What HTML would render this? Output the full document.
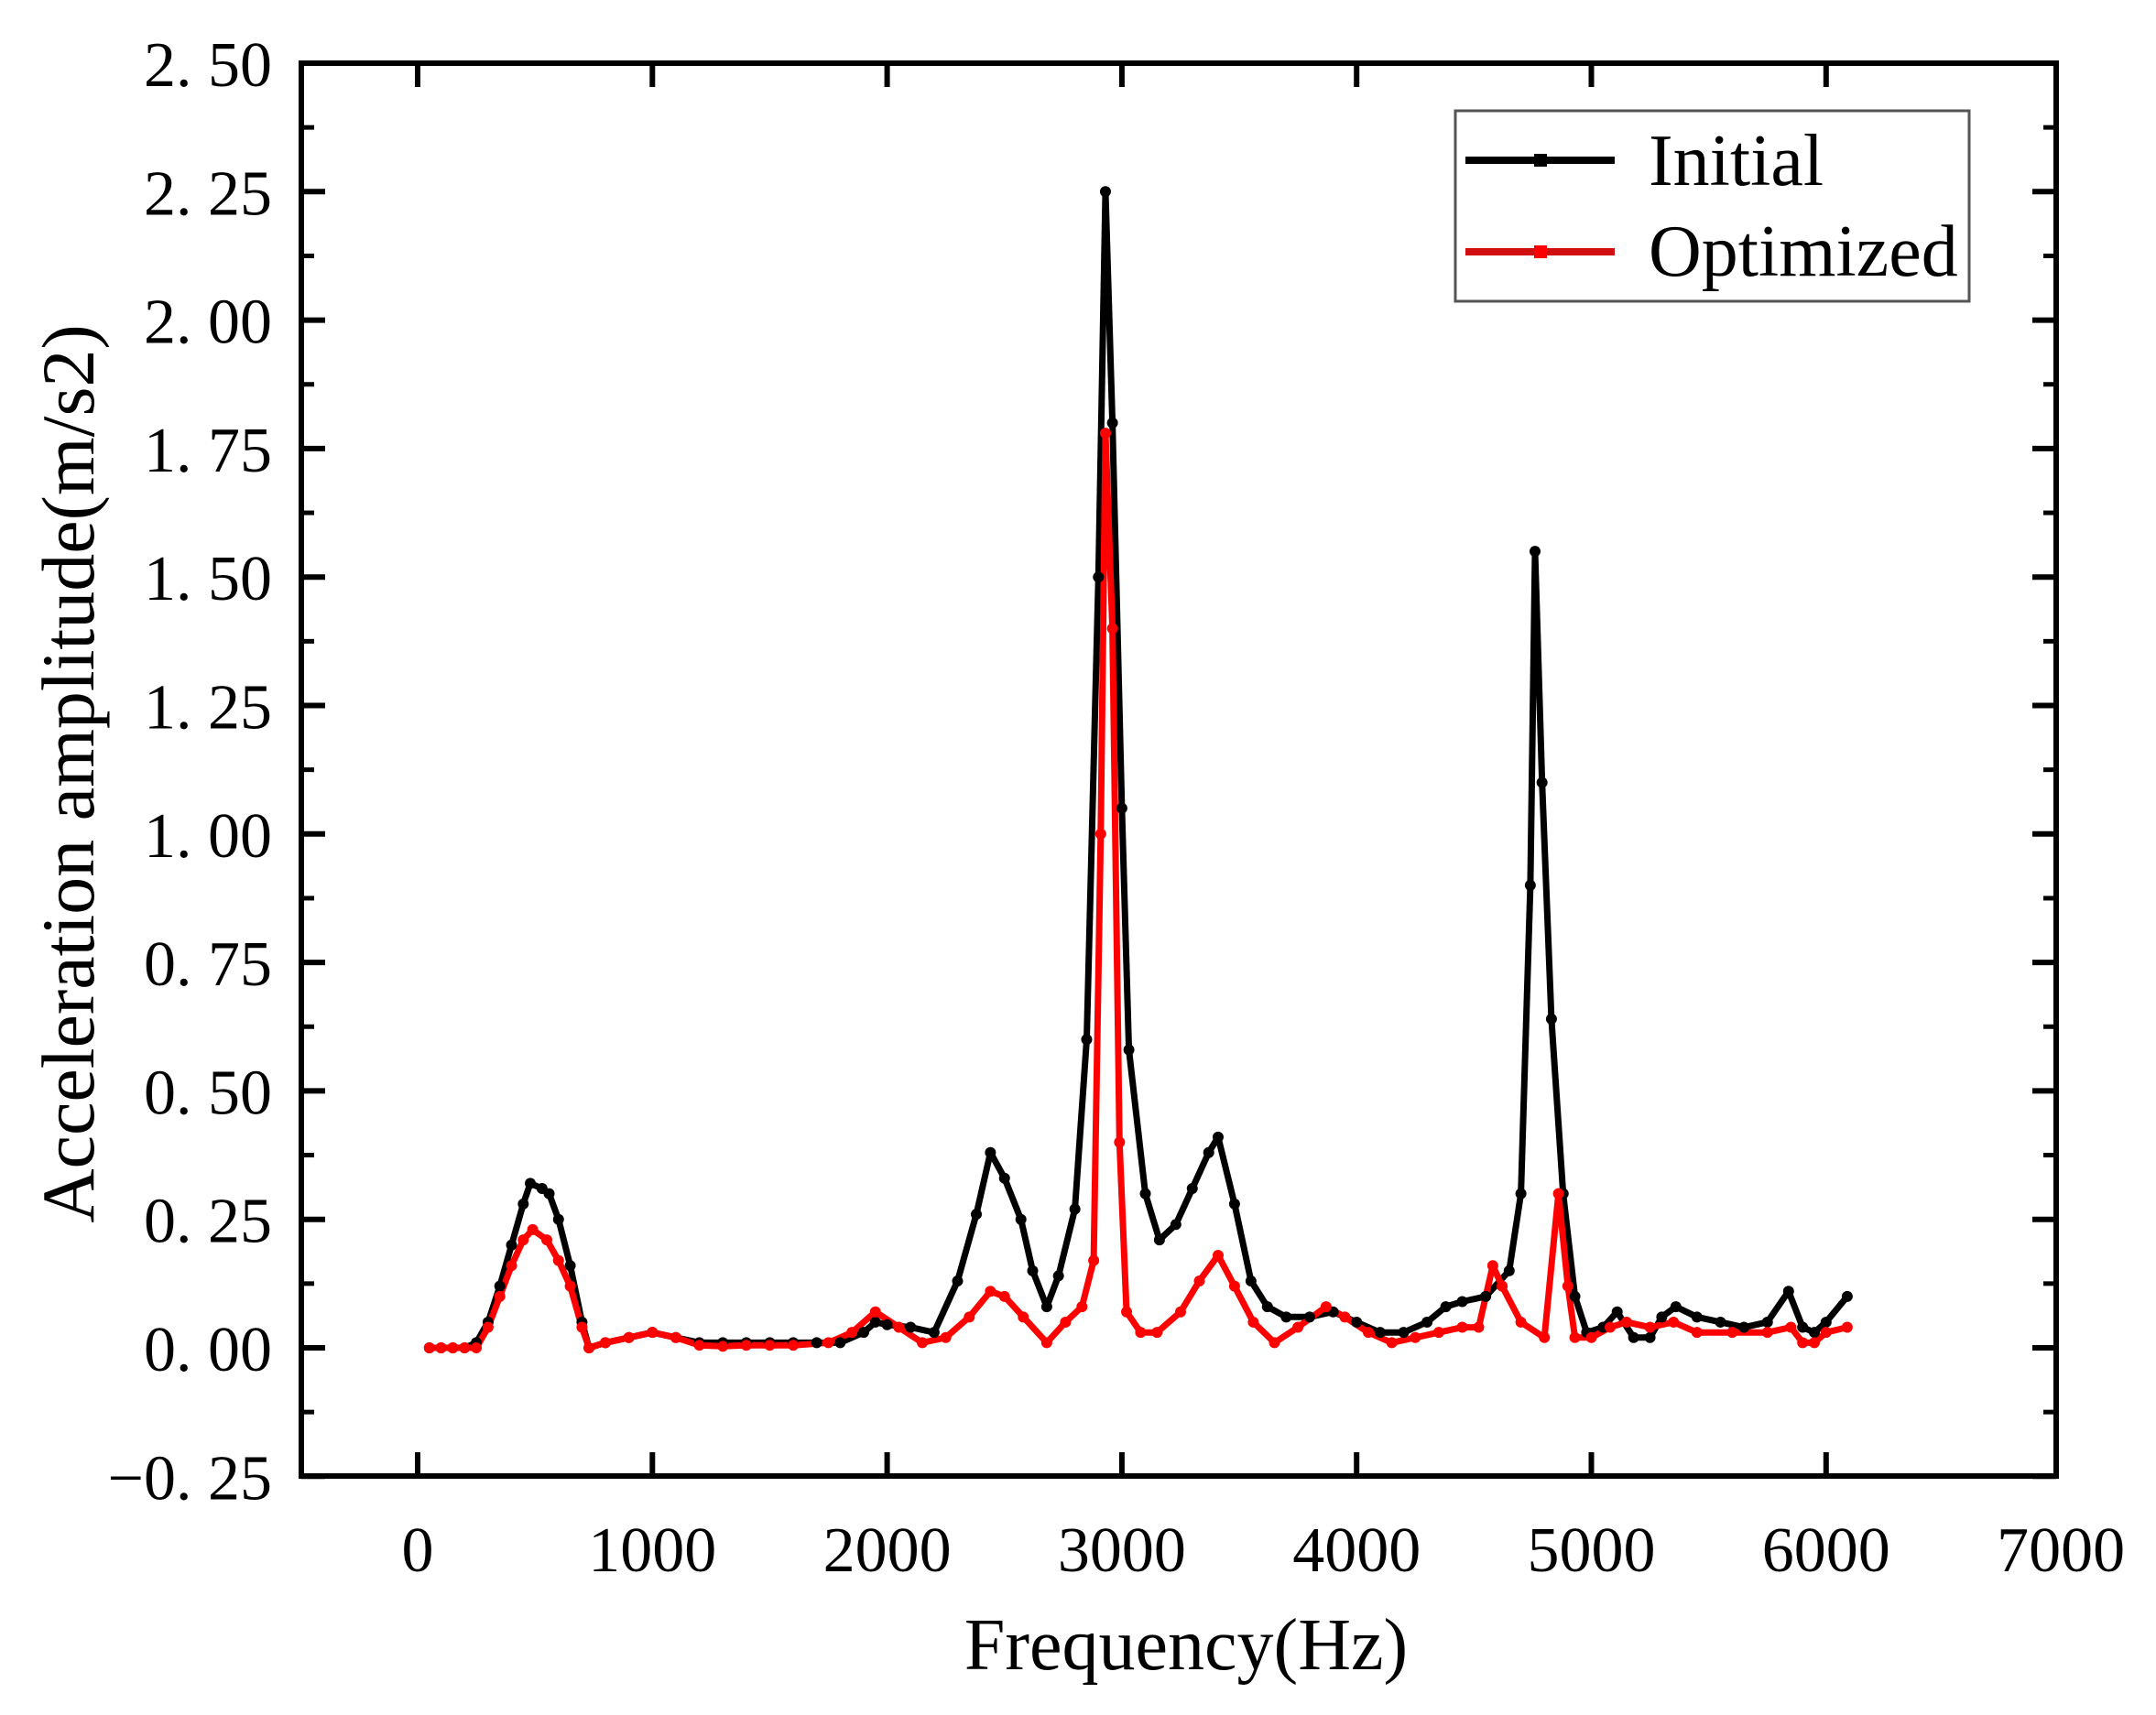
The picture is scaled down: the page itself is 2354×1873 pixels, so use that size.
<!DOCTYPE html>
<html><head><meta charset="utf-8"><style>
html,body{margin:0;padding:0;background:#fff;}
svg{display:block;}
text{font-family:"Liberation Serif","Noto Serif CJK SC",serif;fill:#000;}
</style></head><body>
<svg id="s" width="2354" height="1873" xmlns="http://www.w3.org/2000/svg">
<rect width="2354" height="1873" fill="#fff"/>
<g id="ax"></g>
<path id="pb" fill="none" stroke="#000" stroke-width="7" stroke-linejoin="round"/>
<path id="pr" fill="none" stroke="#f00" stroke-width="7" stroke-linejoin="round"/>
<g id="mk"></g>
<rect x="329" y="69" width="1916" height="1543" fill="none" stroke="#000" stroke-width="6"/>
<rect x="1589" y="121" width="561" height="208" fill="#fff" stroke="#555" stroke-width="3"/>
<line x1="1600" y1="175" x2="1763" y2="175" stroke="#000" stroke-width="8"/>
<rect x="1675" y="168" width="14" height="14" fill="#000"/>
<line x1="1600" y1="275" x2="1763" y2="275" stroke="#d01010" stroke-width="8"/>
<rect x="1675" y="268" width="14" height="14" fill="#f00"/>
<text x="1800" y="202" font-size="80">Initial</text>
<text x="1800" y="301" font-size="80">Optimized</text>
<text x="1295" y="1823" font-size="80" text-anchor="middle">Frequency(Hz)</text>
<text transform="translate(102,845) rotate(-90)" font-size="82" text-anchor="middle">Acceleration amplitude(m/s2)</text>
</svg>
<script>
var X=function(f){return 456+f*0.2563;};
var Y=function(v){return 1472-v*561.2;};
var ax=document.getElementById('ax'),h='';
for(var i=0;i<=11;i++){var v=2.5-i*0.25,y=Y(v);
 var lab=(v<0?'\u22120. 25':v.toFixed(2).replace('.', '. '));
 h+='<text x="297" y="'+(y+25)+'" font-size="70" text-anchor="end">'+lab+'</text>';
 h+='<line x1="329" y1="'+y+'" x2="355" y2="'+y+'" stroke="#000" stroke-width="6"/>';
 h+='<line x1="2219" y1="'+y+'" x2="2245" y2="'+y+'" stroke="#000" stroke-width="6"/>';
 if(i<11){var ym=y+70.15;
 h+='<line x1="329" y1="'+ym+'" x2="343" y2="'+ym+'" stroke="#000" stroke-width="5"/>';
 h+='<line x1="2231" y1="'+ym+'" x2="2245" y2="'+ym+'" stroke="#000" stroke-width="5"/>';}
}
for(var k=0;k<=7;k++){var x=X(k*1000);
 h+='<text x="'+x+'" y="1716" font-size="70" text-anchor="middle">'+(k*1000)+'</text>';
 if(k<7){h+='<line x1="'+x+'" y1="1612" x2="'+x+'" y2="1586" stroke="#000" stroke-width="6"/>';
 h+='<line x1="'+x+'" y1="69" x2="'+x+'" y2="95" stroke="#000" stroke-width="6"/>';}
}
ax.innerHTML=h;
var B=[[50,0],[100,0],[150,0],[200,0],[250,0.01],[300,0.05],[350,0.12],[400,0.2],[450,0.28],[480,0.32],[530,0.31],[560,0.3],[600,0.25],[650,0.16],[700,0.05],[730,0],[800,0.01],[900,0.02],[1000,0.03],[1100,0.02],[1200,0.01],[1300,0.01],[1400,0.01],[1500,0.01],[1600,0.01],[1700,0.01],[1800,0.01],[1900,0.03],[1950,0.05],[2000,0.045],[2100,0.04],[2200,0.03],[2300,0.13],[2380,0.26],[2440,0.38],[2500,0.33],[2570,0.25],[2620,0.15],[2680,0.08],[2730,0.14],[2800,0.27],[2850,0.6],[2900,1.5],[2930,2.25],[2960,1.8],[3000,1.05],[3030,0.58],[3100,0.3],[3160,0.21],[3230,0.24],[3300,0.31],[3370,0.38],[3410,0.41],[3480,0.28],[3550,0.13],[3620,0.08],[3700,0.06],[3800,0.06],[3900,0.07],[4000,0.05],[4100,0.03],[4200,0.03],[4300,0.05],[4380,0.08],[4450,0.09],[4550,0.1],[4650,0.15],[4700,0.3],[4740,0.9],[4760,1.55],[4790,1.1],[4830,0.64],[4880,0.3],[4930,0.1],[4980,0.03],[5050,0.04],[5110,0.07],[5180,0.02],[5250,0.02],[5300,0.06],[5360,0.08],[5450,0.06],[5550,0.05],[5650,0.04],[5750,0.05],[5840,0.11],[5900,0.04],[5950,0.03],[6000,0.05],[6090,0.1]];
var R=[[50,0],[100,0],[150,0],[200,0],[250,0],[300,0.04],[350,0.1],[400,0.16],[450,0.21],[490,0.23],[550,0.21],[600,0.17],[650,0.12],[700,0.04],[730,0],[800,0.01],[900,0.02],[1000,0.03],[1100,0.02],[1200,0.005],[1300,0.003],[1400,0.005],[1500,0.005],[1600,0.005],[1750,0.01],[1850,0.03],[1950,0.07],[2050,0.04],[2150,0.01],[2250,0.02],[2350,0.06],[2440,0.11],[2500,0.1],[2580,0.06],[2680,0.01],[2760,0.05],[2830,0.08],[2880,0.17],[2910,1.0],[2930,1.78],[2960,1.4],[2990,0.4],[3020,0.07],[3080,0.03],[3150,0.03],[3250,0.07],[3330,0.13],[3410,0.18],[3480,0.12],[3560,0.05],[3650,0.01],[3750,0.04],[3870,0.08],[3950,0.06],[4050,0.03],[4150,0.01],[4250,0.02],[4350,0.03],[4450,0.04],[4520,0.04],[4580,0.16],[4620,0.12],[4700,0.05],[4800,0.02],[4860,0.3],[4900,0.12],[4930,0.02],[5000,0.02],[5080,0.04],[5150,0.05],[5250,0.04],[5350,0.05],[5450,0.03],[5600,0.03],[5750,0.03],[5850,0.04],[5900,0.01],[5950,0.01],[6000,0.03],[6090,0.04]];
function P(d){return d.map(function(p,i){return (i?'L':'M')+X(p[0]).toFixed(1)+' '+Y(p[1]).toFixed(1);}).join('');}
document.getElementById('pb').setAttribute('d',P(B));
document.getElementById('pr').setAttribute('d',P(R));
var m='';
B.forEach(function(p){m+='<circle cx="'+X(p[0])+'" cy="'+Y(p[1])+'" r="6" fill="#000"/>';});
R.forEach(function(p){m+='<circle cx="'+X(p[0])+'" cy="'+Y(p[1])+'" r="6" fill="#f00"/>';});
document.getElementById('mk').innerHTML=m;
</script>
</body></html>
